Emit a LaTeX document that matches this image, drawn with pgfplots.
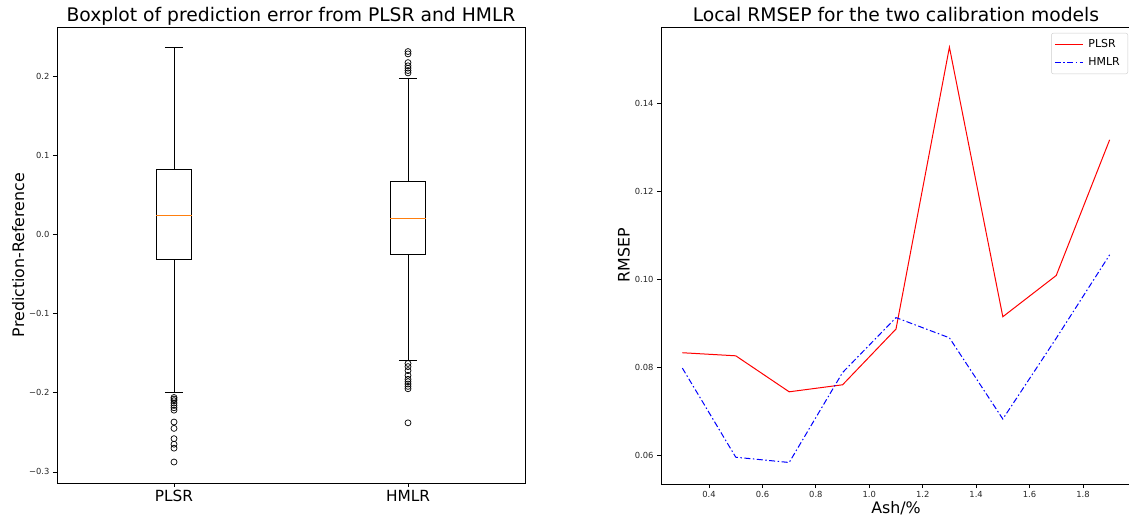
\documentclass[border=0pt]{standalone}
\usepackage{fontspec}
\setmainfont{DejaVu Sans}
\usepackage{pgfplots}
\pgfplotsset{compat=1.18}

\definecolor{mplorange}{HTML}{FF7F0E}
\definecolor{legframe}{HTML}{CCCCCC}

\pgfplotsset{
  common/.style={
    scale only axis,
    axis line style={black, line width=0.8bp},
    tick align=outside,
    tick pos=left,
    major tick length=4bp,
    tick style={black, line width=0.8bp},
    ticklabel style={font=\fontsize{8.4}{10}\selectfont, text=black!85},
    /pgf/number format/assume math mode=true,
    every axis title/.style={at={(0.5,1)}, anchor=base, yshift=5bp,
      font=\fontsize{18.8}{21}\selectfont},
  },
  bx/.style={black, line width=0.9bp, mark=none},
  med/.style={mplorange, line width=1bp, mark=none},
  outl/.style={only marks, mark=o, mark size=3bp,
    mark options={black, line width=0.7bp, fill=none}},
}

\begin{document}
\begin{tikzpicture}
\useasboundingbox (0,0) rectangle (1129bp,518bp);

% left: boxplots of prediction error
\begin{axis}[common,
  at={(57bp,35bp)}, anchor=south west,
  width=468bp, height=456bp,
  xmin=0.5, xmax=2.5, ymin=-0.314, ymax=0.262,
  xtick={1,2}, xticklabels={PLSR,HMLR},
  xticklabel style={font=\fontsize{15.4}{18}\selectfont, text=black},
  ytick={-0.3,-0.2,-0.1,0,0.1,0.2},
  yticklabels={−0.3,−0.2,−0.1,0.0,0.1,0.2},
  title={Boxplot of prediction error from PLSR and HMLR},
  ylabel={Prediction-Reference},
  every axis y label/.style={at={(axis description cs:-0.083,0.5)}, rotate=90,
    anchor=center, font=\fontsize{15.9}{18}\selectfont},
]
% PLSR: box (q1 -0.0316, q3 0.082), whiskers -0.2 / 0.2366, median 0.0244
\addplot[bx] coordinates {(0.925,-0.0316) (1.075,-0.0316) (1.075,0.082) (0.925,0.082) (0.925,-0.0316)};
\addplot[bx] coordinates {(1,0.082) (1,0.2366)};
\addplot[bx] coordinates {(1,-0.0316) (1,-0.2)};
\addplot[bx] coordinates {(0.961,0.2366) (1.039,0.2366)};
\addplot[bx] coordinates {(0.961,-0.2) (1.039,-0.2)};
\addplot[med] coordinates {(0.925,0.0244) (1.075,0.0244)};
% HMLR: box (q1 -0.0253, q3 0.0665), whiskers -0.159 / 0.197, median 0.0206
\addplot[bx] coordinates {(1.925,-0.0253) (2.075,-0.0253) (2.075,0.0665) (1.925,0.0665) (1.925,-0.0253)};
\addplot[bx] coordinates {(2,0.0665) (2,0.197)};
\addplot[bx] coordinates {(2,-0.0253) (2,-0.159)};
\addplot[bx] coordinates {(1.961,0.197) (2.039,0.197)};
\addplot[bx] coordinates {(1.961,-0.159) (2.039,-0.159)};
\addplot[med] coordinates {(1.925,0.0206) (2.075,0.0206)};
% outliers
\addplot[outl] coordinates {
  (1,-0.206) (1,-0.208) (1,-0.210) (1,-0.213) (1,-0.216) (1,-0.219) (1,-0.222)
  (1,-0.237) (1,-0.245) (1,-0.258) (1,-0.265) (1,-0.270) (1,-0.2875)
};
\addplot[outl] coordinates {
  (2,0.231) (2,0.228) (2,0.217) (2,0.213) (2,0.210) (2,0.207) (2,0.204)
  (2,-0.163) (2,-0.167) (2,-0.172) (2,-0.178) (2,-0.183) (2,-0.186)
  (2,-0.189) (2,-0.192) (2,-0.195) (2,-0.238)
};
\end{axis}

% right: local RMSEP
\begin{axis}[common,
  at={(661bp,34bp)}, anchor=south west,
  width=470bp, height=457bp,
  xmin=0.22, xmax=1.98, ymin=0.0534, ymax=0.1575,
  xtick={0.4,0.6,0.8,1.0,1.2,1.4,1.6,1.8},
  ytick={0.06,0.08,0.10,0.12,0.14},
  xticklabel style={/pgf/number format/.cd, fixed, fixed zerofill, precision=1},
  yticklabel style={/pgf/number format/.cd, fixed, fixed zerofill, precision=2},
  title={Local RMSEP for the two calibration models},
  xlabel={Ash/\%}, ylabel={RMSEP},
  every axis y label/.style={at={(axis description cs:-0.079,0.5)}, rotate=90,
    anchor=center, font=\fontsize{15.9}{18}\selectfont},
  every axis x label/.style={at={(axis description cs:0.5,0)}, anchor=center,
    yshift=-24bp, font=\fontsize{15.9}{18}\selectfont},
  legend style={at={(1,1)}, anchor=north east, xshift=-3bp, yshift=-6bp,
    draw=legframe, rounded corners=2bp, fill=white, inner xsep=3bp, inner ysep=3bp,
    nodes={inner xsep=5bp, inner ysep=3.5bp}, font=\fontsize{11}{13}\selectfont, row sep=1.5bp},
  legend cell align=left,
  legend image code/.code={\draw[#1] (0bp,0bp) -- (28bp,0bp);},
]
\addplot[red, line width=1bp] coordinates {
  (0.3,0.0833) (0.5,0.0826) (0.7,0.0744) (0.9,0.0760) (1.1,0.0887)
  (1.3,0.1529) (1.5,0.0915) (1.7,0.1009) (1.9,0.1318)
};
\addlegendentry{PLSR}
\addplot[blue, line width=1bp, dash pattern=on 6bp off 2.5bp on 1.5bp off 2.5bp] coordinates {
  (0.3,0.0798) (0.5,0.0595) (0.7,0.0583) (0.9,0.0788) (1.1,0.0913)
  (1.3,0.0867) (1.5,0.0682) (1.7,0.0866) (1.9,0.1056)
};
\addlegendentry{HMLR}
\end{axis}
\end{tikzpicture}
\end{document}
